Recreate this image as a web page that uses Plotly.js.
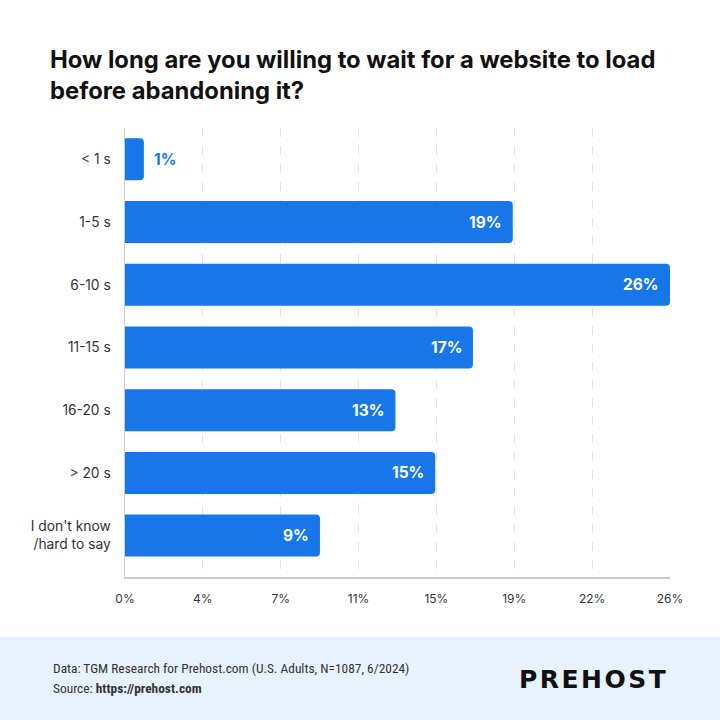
<!DOCTYPE html>
<html>
<head>
<meta charset="utf-8">
<script src="https://cdn.plot.ly/plotly-3.0.1.min.js"></script>
<style>
html,body{margin:0;padding:0;background:#fff;}
#chart{width:720px;height:720px;}
</style>
</head>
<body>
<div id="chart"></div>
<script>
// Data
const categories = ["< 1 s", "1-5 s", "6-10 s", "11-15 s", "16-20 s", "> 20 s", "I don't know<br>/hard to say"];
const values = [0.9, 18.5, 26.0, 16.6, 12.9, 14.8, 9.3];
const tickValues = [0, 26/7, 52/7, 78/7, 104/7, 130/7, 156/7, 26];
const tickLabels = ["0%", "4%", "7%", "11%", "15%", "19%", "22%", "26%"];

const BLUE = "#1877e8";
const FONT = "Inter, Roboto, 'Noto Sans', sans-serif";

const plotL = 125, plotR = 670, plotT = 128, plotB = 577;
const W = 720, H = 720;
const pw = plotR - plotL, ph = plotB - plotT;
const px2x = p => (p - plotL) / pw;
const px2y = p => (plotB - p) / ph;

const annotations = values.map((v, i) => {
  const inside = v >= 3;
  return {
    x: v, y: categories[i], xref: "x", yref: "y",
    text: "<b>" + Math.round(v) + "%</b>",
    showarrow: false,
    xanchor: inside ? "right" : "left",
    xshift: inside ? -9 : 8,
    font: {family: FONT, size: 15.5, color: inside ? "#ffffff" : BLUE}
  };
});

const FOOTFONT = "'Liberation Sans Narrow', 'Roboto Condensed', Roboto, sans-serif";
annotations.push({
  xref: "paper", yref: "paper", x: px2x(51), y: px2y(668),
  xanchor: "left", yanchor: "middle", showarrow: false, align: "left",
  text: "Data: TGM Research for Prehost.com (U.S. Adults, N=1087, 6/2024)",
  font: {family: FOOTFONT, size: 13.4, color: "#333333"}
});
annotations.push({
  xref: "paper", yref: "paper", x: px2x(51), y: px2y(688),
  xanchor: "left", yanchor: "middle", showarrow: false, align: "left",
  text: "Source: <b>https://prehost.com</b>",
  font: {family: FOOTFONT, size: 13.4, color: "#333333"}
});
annotations.push({
  xref: "paper", yref: "paper", x: px2x(668), y: px2y(679),
  xanchor: "right", yanchor: "middle", showarrow: false,
  text: "<b>P\u200AR\u200AE\u200AH\u200AO\u200AS\u200AT</b>",
  font: {family: "'DejaVu Sans', sans-serif", size: 25, color: "#111111"}
});

const trace = {
  type: "bar",
  orientation: "h",
  x: values,
  y: categories,
  marker: {color: BLUE, cornerradius: 4},
  hoverinfo: "skip"
};

const layout = {
  width: W, height: H,
  margin: {l: plotL, r: W - plotR, t: plotT, b: H - plotB, pad: 0},
  paper_bgcolor: "#ffffff",
  plot_bgcolor: "#ffffff",
  bargap: 0.33,
  showlegend: false,
  font: {family: FONT, color: "#333333"},
  title: {
    text: "<b>How long are you willing to wait for a website to load<br>before abandoning it?</b>",
    font: {family: FONT, size: 23.8, color: "#111111"},
    xref: "container", yref: "container",
    x: 50 / W, xanchor: "left",
    y: 1 - 68 / H, yanchor: "top"
  },
  xaxis: {
    range: [0, 26],
    tickmode: "array",
    tickvals: tickValues,
    ticktext: tickLabels,
    showgrid: true,
    gridcolor: "#dfe4ec",
    griddash: "dash",
    gridwidth: 1,
    zeroline: false,
    showline: true,
    linecolor: "#c9ccd1",
    linewidth: 1.5,
    ticks: "outside",
    ticklen: 10,
    tickcolor: "rgba(0,0,0,0)",
    tickfont: {family: FONT, size: 12, color: "#333333"},
    fixedrange: true
  },
  yaxis: {
    type: "category",
    range: [6.66, -0.5],
    showgrid: false,
    zeroline: false,
    showline: true,
    linecolor: "#c9ccd1",
    linewidth: 1.5,
    ticks: "outside",
    ticklen: 10,
    tickcolor: "rgba(0,0,0,0)",
    tickfont: {family: FONT, size: 13.8, color: "#333333"},
    fixedrange: true
  },
  shapes: [{
    type: "rect", xref: "paper", yref: "paper", layer: "below",
    x0: px2x(-5), x1: px2x(W + 5), y0: px2y(637), y1: px2y(H + 5),
    fillcolor: "#e8f2fe", line: {width: 0}
  }],
  annotations: annotations
};

Plotly.newPlot("chart", [trace], layout, {displayModeBar: false, staticPlot: true});
</script>
</body>
</html>
